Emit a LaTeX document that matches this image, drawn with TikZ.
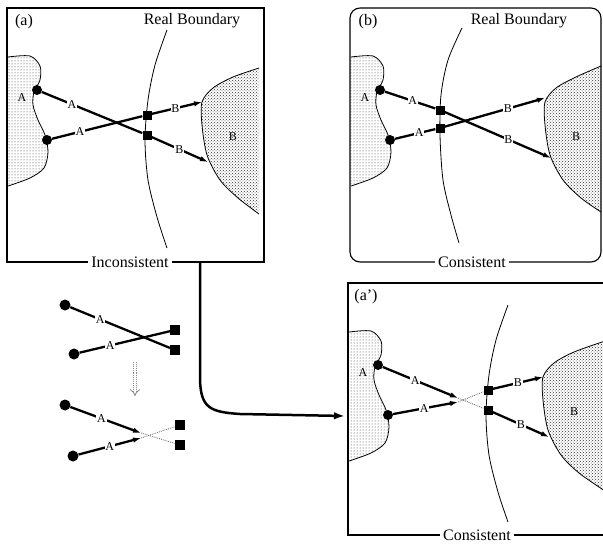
\documentclass[tikz,border=0pt]{standalone}
\usepackage{fontspec}
\setmainfont{Liberation Serif}
\usetikzlibrary{arrows.meta,patterns}
\begin{document}
\begin{tikzpicture}[x=1pt,y=-1pt,
  box/.style={line width=1.1pt},
  bnd/.style={line width=0.8pt},
  conn/.style={line width=2.3pt},
  tipped/.style={conn,-{Latex[length=8pt,width=5.5pt]}},
  ghost/.style={line width=0.9pt,densely dotted,black!55},
  dotnode/.style={circle,fill=black,inner sep=0pt,minimum size=10pt},
  sqnode/.style={rectangle,fill=black,inner sep=0pt,minimum size=9pt},
  lab/.style={fill=white,inner sep=0.8pt,font=\fontsize{12}{12}\selectfont},
  title/.style={font=\fontsize{16}{18}\selectfont},
  bottomlab/.style={title,fill=white,inner xsep=3pt,inner ysep=1pt},
  sparse/.style={pattern=dots,pattern color=black!80},
  dense/.style={pattern=crosshatch dots,pattern color=black!80}]
\useasboundingbox (0,0) rectangle (603,544);
\clip (0,0) rectangle (603,544);

% ================= panel (a) =================
\fill[sparse] (7,57) -- plot[smooth] coordinates {(8,57) (30,56) (40,66) (40,80) (34,92) (33,105) (38,120) (45,135) (48,152) (44,168) (30,178) (8,186)} -- (7,186) -- cycle;
\draw[bnd] plot[smooth] coordinates {(8,57) (30,56) (40,66) (40,80) (34,92) (33,105) (38,120) (45,135) (48,152) (44,168) (30,178) (8,186)};
\fill[dense] plot[smooth] coordinates {(259,68) (233,77) (213,88) (202,102) (202,125) (207,155) (220,180) (238,198) (259,214)} -- cycle;
\draw[bnd] plot[smooth] coordinates {(259,68) (233,77) (213,88) (202,102) (202,125) (207,155) (220,180) (238,198) (259,214)};
\node[lab,fill=none] (aLA) at (22,98) {A};
\node[lab,fill=none] (aLB) at (233,137) {B};
\draw[bnd] plot[smooth] coordinates {(167,30) (155,65) (148,100) (145,140) (148,180) (157,217) (167,248)};
\draw[box] (7,8) rectangle (264,262);
\node[title] (aT) at (24,22) {(a)};
\node[title] (aRB) at (192,21) {Real Boundary};
\node[bottomlab] (aInc) at (130,262) {Inconsistent};

\node[dotnode] (ac1) at (37,90) {};
\node[dotnode] (ac2) at (47,140) {};
\node[sqnode] (as1) at (147,115) {};
\node[sqnode] (as2) at (147,135) {};
\coordinate (ae1) at (202,102);
\coordinate (ae2) at (208,162);
\draw[conn] (ac1) -- node[lab,pos=0.3] {A} (as2);
\draw[conn] (ac2) -- node[lab,pos=0.31] {A} (as1);
\draw[tipped] (as1) -- node[lab,pos=0.47] {B} (ae1);
\draw[tipped] (as2) -- node[lab,pos=0.49] {B} (ae2);

% ================= panel (b) =================
\begin{scope}[shift={(343,0)}]
\fill[sparse] (7,57) -- plot[smooth] coordinates {(8,57) (30,56) (40,66) (40,80) (34,92) (33,105) (38,120) (45,135) (48,152) (44,168) (30,178) (8,186)} -- (7,186) -- cycle;
\draw[bnd] plot[smooth] coordinates {(8,57) (30,56) (40,66) (40,80) (34,92) (33,105) (38,120) (45,135) (48,152) (44,168) (30,178) (8,186)};
\fill[dense] plot[smooth] coordinates {(258,66) (233,77) (213,88) (202,102) (202,125) (207,155) (220,180) (238,198) (258,212)} -- cycle;
\draw[bnd] plot[smooth] coordinates {(258,66) (233,77) (213,88) (202,102) (202,125) (207,155) (220,180) (238,198) (258,212)};
\node[lab,fill=none] (bLA) at (22,98) {A};
\node[lab,fill=none] (bLB) at (233,137) {B};
\end{scope}
\draw[bnd] plot[smooth] coordinates {(462,28) (448,60) (441,95) (440,135) (443,180) (451,215) (459,243)};
\draw[box,rounded corners=10pt] (350,8) rectangle (601,262);
\node[title] (bT) at (368,22) {(b)};
\node[title] (bRB) at (519,21) {Real Boundary};
\node[bottomlab] (bCon) at (472,262) {Consistent};

\node[dotnode] (bc1) at (380,90) {};
\node[dotnode] (bc2) at (390,140) {};
\node[sqnode] (bs1) at (440,110) {};
\node[sqnode] (bs2) at (440,128) {};
\coordinate (be1) at (545,98);
\coordinate (be2) at (551,158);
\draw[conn] (bc1) -- node[lab,pos=0.55] {A} (bs1);
\draw[conn] (bc2) -- node[lab,pos=0.6] {A} (bs2);
\draw[tipped] (bs2) -- node[lab,pos=0.63] {B} (be1);
\draw[tipped] (bs1) -- node[lab,pos=0.6] {B} (be2);

% ================= panel (a') =================
\begin{scope}[shift={(341,275)}]
\fill[sparse] (7,57) -- plot[smooth] coordinates {(8,57) (30,56) (40,66) (40,80) (34,92) (33,105) (38,120) (45,135) (48,152) (44,168) (30,178) (8,186)} -- (7,186) -- cycle;
\draw[bnd] plot[smooth] coordinates {(8,57) (30,56) (40,66) (40,80) (34,92) (33,105) (38,120) (45,135) (48,152) (44,168) (30,178) (8,186)};
\fill[dense] plot[smooth] coordinates {(264,66) (233,77) (213,88) (202,102) (202,125) (207,155) (220,180) (238,198) (264,216)} -- cycle;
\draw[bnd] plot[smooth] coordinates {(264,66) (233,77) (213,88) (202,102) (202,125) (207,155) (220,180) (238,198) (264,216)};
\node[lab,fill=none] (pLA) at (22,98) {A};
\node[lab,fill=none] (pLB) at (233,137) {B};
\draw[bnd] plot[smooth] coordinates {(167,30) (155,65) (148,100) (145,140) (148,180) (157,217) (167,247)};
\end{scope}
\draw[box] (348,283) rectangle (610,535);
\node[title] (pT) at (366,297) {(a')};
\node[bottomlab] (pCon) at (477,535) {Consistent};

\node[dotnode] (pc1) at (378,365) {};
\node[dotnode] (pc2) at (388,415) {};
\node[sqnode] (ps1) at (488,390) {};
\node[sqnode] (ps2) at (488,410) {};
\coordinate (pt1) at (458,398);
\coordinate (pt2) at (458,402);
\coordinate (pe1) at (543,377);
\coordinate (pe2) at (549,437);
\draw[tipped] (pc1) -- node[lab,pos=0.43] {A} (pt1);
\draw[tipped] (pc2) -- node[lab,pos=0.48] {A} (pt2);
\draw[ghost] (pt1) -- (ps2);
\draw[ghost] (pt2) -- (ps1);
\draw[tipped] (ps1) -- node[lab,pos=0.5] {B} (pe1);
\draw[tipped] (ps2) -- node[lab,pos=0.5] {B} (pe2);

% ================= big arrow =================
\coordinate (bigs) at (200,262);
\coordinate (bige) at (345,416);
\draw[line width=2.5pt,-{Latex[length=11pt,width=7.5pt]}] (bigs) -- (200,380) .. controls (201,408) and (210,412) .. (240,414) -- (bige);

% ================= mini diagrams =================
\node[dotnode,minimum size=11pt] (mc1) at (65,305) {};
\node[dotnode,minimum size=11pt] (mc2) at (74,354) {};
\node[sqnode,minimum size=9.5pt] (ms1) at (175,330) {};
\node[sqnode,minimum size=9.5pt] (ms2) at (175,350) {};
\draw[conn] (mc1) -- node[lab,pos=0.3] {A} (ms2);
\draw[conn] (mc2) -- node[lab,pos=0.34] {A} (ms1);

\coordinate (da1) at (135,362);
\coordinate (da2) at (135,396);
\draw[black!45,densely dotted,double,double distance=2.5pt,line width=0.9pt,-{Implies}] (da1) -- (da2);

\node[dotnode,minimum size=11pt] (nc1) at (65,405) {};
\node[dotnode,minimum size=11pt] (nc2) at (73,456) {};
\node[sqnode,minimum size=9.5pt] (ns1) at (180,425) {};
\node[sqnode,minimum size=9.5pt] (ns2) at (180,445) {};
\coordinate (nt1) at (141,433);
\coordinate (nt2) at (141,438);
\draw[tipped] (nc1) -- node[lab,pos=0.44] {A} (nt1);
\draw[tipped] (nc2) -- node[lab,pos=0.5] {A} (nt2);
\draw[ghost] (nt1) -- (ns2);
\draw[ghost] (nt2) -- (ns1);
\end{tikzpicture}
\end{document}
